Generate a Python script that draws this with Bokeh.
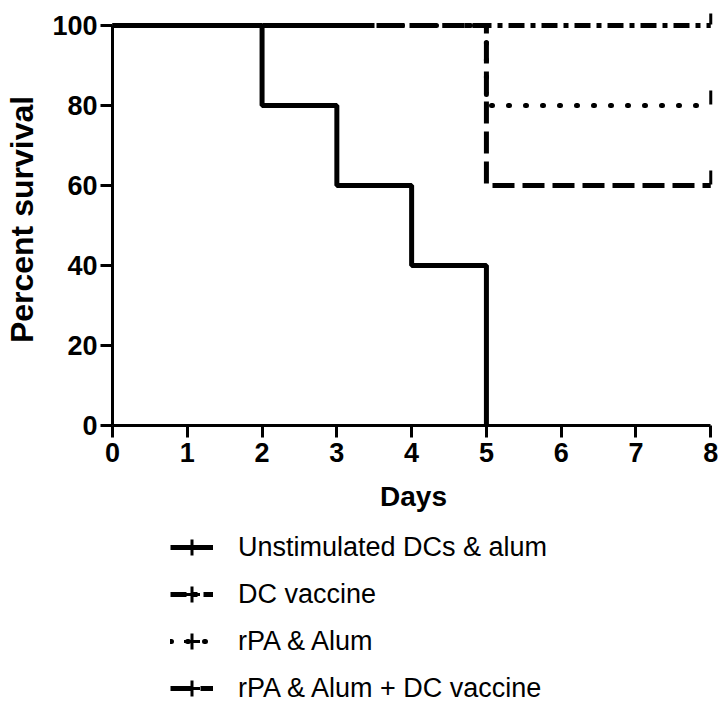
import numpy as np
from bokeh.plotting import figure
from bokeh.layouts import column
from bokeh.models import Range1d, FixedTicker, Legend, LegendItem, ColumnDataSource
from bokeh.embed import file_html
from bokeh.resources import INLINE

# Survival data (Kaplan-Meier steps)
days_unstim = [0, 2, 3, 4, 5]
surv_unstim = [100, 80, 60, 40, 0]
days_dc = [0, 8]
surv_dc = [100, 100]
days_rpa = [0, 5, 8]
surv_rpa = [100, 80, 80]
days_comb = [0, 5, 8]
surv_comb = [100, 60, 60]

# censored points at the end of follow-up
cens_x_dc, cens_y_dc = [8], [100]
cens_x_rpa, cens_y_rpa = [8], [80]
cens_x_comb, cens_y_comb = [8], [60]

labels = ["Unstimulated DCs & alum", "DC vaccine", "rPA & Alum", "rPA & Alum + DC vaccine"]
x_ticks = [0, 1, 2, 3, 4, 5, 6, 7, 8]
y_ticks = [0, 20, 40, 60, 80, 100]

FONT = "Liberation Sans"
LW = 5
STYLES = [dict(line_dash="solid"),
          dict(line_dash="16 6 5 6"),
          dict(line_dash="1 16", line_cap="round"),
          dict(line_dash="22 8")]

p = figure(width=718, height=520, x_range=Range1d(0, 8.05), y_range=Range1d(0, 103),
           output_backend="svg", toolbar_location=None,
           min_border_left=112, min_border_right=4, min_border_top=13, min_border_bottom=95)
p.grid.visible = False
p.outline_line_color = None

for ax in (p.xaxis[0], p.yaxis[0]):
    ax.axis_line_width = 3
    ax.axis_line_color = "black"
    ax.major_tick_line_width = 3
    ax.major_tick_line_color = "black"
    ax.major_tick_out = 12
    ax.major_tick_in = 0
    ax.minor_tick_line_color = None
    ax.major_label_text_font = FONT
    ax.major_label_text_font_style = "bold"
    ax.major_label_text_font_size = "27px"
    ax.major_label_text_color = "black"
    ax.axis_label_text_font = FONT
    ax.axis_label_text_font_style = "bold"
    ax.axis_label_text_color = "black"

p.xaxis.ticker = FixedTicker(ticks=x_ticks)
p.yaxis.ticker = FixedTicker(ticks=y_ticks)
p.xaxis.bounds = (0, 8)
p.yaxis.bounds = (0, 100)
p.xaxis.axis_label = "Days"
p.yaxis.axis_label = "Percent survival"
p.xaxis.axis_label_text_font_size = "28px"
p.yaxis.axis_label_text_font_size = "32px"
p.xaxis.major_label_standoff = 5
p.yaxis.major_label_standoff = 3
p.xaxis.axis_label_standoff = 16
p.yaxis.axis_label_standoff = 9

series = [(days_unstim, surv_unstim), (days_dc, surv_dc), (days_rpa, surv_rpa), (days_comb, surv_comb)]
for (xs, ys), st in zip(series, STYLES):
    p.step(xs, ys, mode="after", line_color="black", line_width=LW, **st)

# censor ticks drawn on the curves
for cx, cy in ((cens_x_dc, cens_y_dc), (cens_x_rpa, cens_y_rpa), (cens_x_comb, cens_y_comb)):
    src = ColumnDataSource(dict(x=cx, y=[v + 2 for v in cy]))
    p.scatter("x", "y", source=src, marker="dash", angle=np.pi / 2, size=14,
              line_color="black", line_width=3)

# legend panel below the chart (placeholder renderers carry the legend symbols only)
lg = figure(width=718, height=191, x_range=Range1d(0, 1), y_range=Range1d(0, 1),
            output_backend="svg", toolbar_location=None,
            x_axis_location=None, y_axis_location=None,
            min_border_left=0, min_border_right=0, min_border_top=0, min_border_bottom=0)
lg.grid.visible = False
lg.outline_line_color = None

nan = np.array([np.nan])
items = []
for lab, st in zip(labels, STYLES):
    rl = lg.line(x=nan, y=nan, line_color="black", line_width=LW, **st)
    rt = lg.scatter(x=nan, y=nan, marker="cross", size=12, line_color="black", line_width=3)
    items.append(LegendItem(label=lab, renderers=[rl, rt]))

legend = Legend(items=items, location=(58, 3), orientation="vertical",
                glyph_width=43, glyph_height=40, label_height=40, spacing=7,
                label_standoff=25, padding=0, margin=0,
                border_line_color=None, background_fill_alpha=0,
                label_text_font=FONT, label_text_font_size="27px", label_text_color="black")
lg.add_layout(legend, "center")

open("out.html", "w").write(file_html(column(p, lg, spacing=0), INLINE))
